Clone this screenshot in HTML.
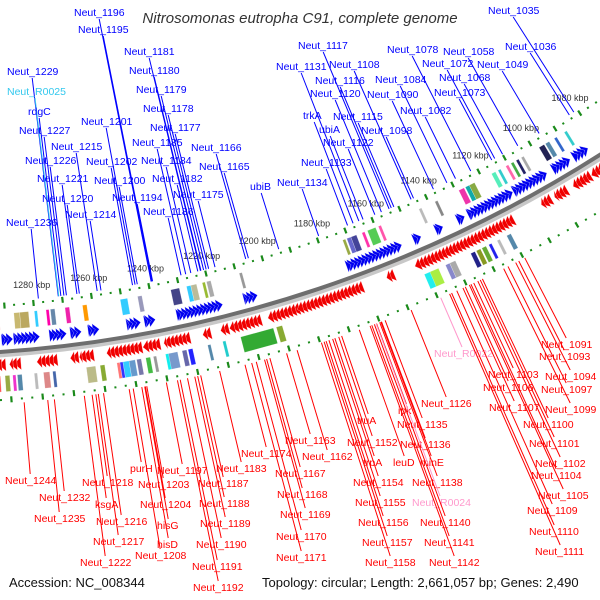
<!DOCTYPE html>
<html><head><meta charset="utf-8">
<style>
html,body{margin:0;padding:0;background:#fff;}
svg{display:block;font-family:"Liberation Sans",sans-serif;}
</style></head>
<body>
<svg id="map" width="600" height="600" viewBox="0 0 600 600">
<text x="300" y="23" text-anchor="middle" font-size="15" font-style="italic" fill="#333">Nitrosomonas eutropha C91, complete genome</text>
<text x="9" y="587" font-size="13" fill="#111">Accession: NC_008344</text>
<text x="262" y="587" font-size="13" fill="#111">Topology: circular; Length: 2,661,057 bp; Genes: 2,490</text>
</svg>
<script>
// ---- data ----
const tickKbp = [1080,1100,1120,1140,1160,1180,1200,1220,1240,1260,1280];
const blueClusters = [[1288,1291],[1279,1287],[1270,1275],[1265,1268],[1259,1262],[1245,1249],[1240,1243],[1217,1232],[1205,1209],[1154,1173],[1147,1149],[1139,1141],[1131,1133],[1113,1129],[1100,1112],[1091,1097],[1084,1089]];
const redClusters = [[1291,1296],[1286,1289],[1274,1280],[1267,1269],[1262,1266],[1246,1257],[1240,1245],[1230,1238],[1223,1225],[1217,1219],[1206,1216],[1193,1203],[1171,1193],[1160,1162],[1117,1152],[1103,1106],[1097,1101],[1088,1094],[1082,1087]];
const innerBoxStart = [1292,1285,1282,1279,1275,1273,1268,1262,1248,1243,1230,1226,1224,1221,1219,1208,1171,1169,1167,1164,1160,1158,1143,1137,1127,1125,1123,1115,1113,1110,1108,1106,1104,1096,1094,1091,1087];
const innerBoxLen = [2,2,3,1,1,1.5,1.5,1.5,2.5,1.5,3,1.5,2,1,1.5,1,1,1.5,2,1,3,1,1,1,2,1.5,2,1.5,1,1,1,1,1,2,1.5,1,1];
const innerBoxColor = ['#e88','#c8b870','#bba860','#3cf','#f0a','#68a','#e2a','#f90','#3cf','#99b','#448','#3cf','#bb9','#9b3','#aaa','#999','#9a4','#66c','#449','#f3a','#5c5','#f5a','#bbb','#888','#e3a','#1aa','#8a4','#5eb','#3cc','#f6a','#4a4','#226','#aaa','#225','#58a','#36c','#3cc'];
const outerBoxStart = [1293,1290,1288,1286,1281,1277,1275,1264,1262,1259,1254,1253,1251,1249,1247,1244,1242,1237,1235,1232,1230,1224,1219,1203,1200,1148,1146,1142,1140,1133,1131,1129,1127,1124,1120];
const outerBoxLen = [2,1.5,1,1.5,1,2,1,1,3,1.5,1,1,2,2,1.5,1.5,1,2,3,1.5,1.5,1,1,11,2,3,3,1.5,2,1.5,1.5,1.5,1,1,1.5];
const outerBoxColor = ['#f55','#9a4','#e3c','#58a','#bbb','#d88','#46a','#f8b','#bb8','#8a3','#f77','#33f','#3cf','#69c','#77a','#4b4','#999','#1ee','#79c','#66a','#22f','#58a','#2cc','#3a3','#8a3','#2ee','#ae4','#88c','#aaa','#228','#892','#6a3','#22e','#bbb','#58a'];
const topNames = ['Neut_1196','Neut_1195','Neut_1181','Neut_1180','Neut_1179','Neut_1178','Neut_1177','Neut_1185','Neut_1184','Neut_1182','Neut_1175','Neut_1186','Neut_1166','Neut_1165','ubiB','Neut_1229','Neut_R0025','rdgC','Neut_1227','Neut_1215','Neut_1226','Neut_1221','Neut_1220','Neut_1214','Neut_1236','Neut_1201','Neut_1202','Neut_1200','Neut_1194','Neut_1035','Neut_1036','Neut_1049','Neut_1058','Neut_1072','Neut_1068','Neut_1073','Neut_1078','Neut_1084','Neut_1090','Neut_1082','Neut_1098','Neut_1117','Neut_1108','Neut_1131','Neut_1116','Neut_1120','Neut_1115','trkA','ubiA','Neut_1122','Neut_1133','Neut_1134'];
const topX = [74,78,124,129,136,143,150,132,141,152,173,143,191,199,250,7,7,28,19,51,25,37,42,65,6,81,86,94,112,488,505,477,443,422,439,434,387,375,367,400,361,298,329,276,315,310,333,303,319,323,301,277];
const topY = [16,33,55,74,93,112,131,146,164,182,198,215,151,170,190,75,95,115,134,150,164,182,202,218,226,125,165,184,201,14,50,68,55,67,81,96,53,83,98,114,134,49,68,70,84,97,120,119,133,146,166,186];
const botNames = ['Neut_1244','Neut_1232','Neut_1235','Neut_1218','ksgA','Neut_1216','Neut_1217','Neut_1222','purH','Neut_1197','Neut_1203','Neut_1204','hisG','hisD','Neut_1208','Neut_1183','Neut_1187','Neut_1188','Neut_1189','Neut_1190','Neut_1191','Neut_1192','Neut_1174','Neut_1163','Neut_1162','Neut_1167','Neut_1168','Neut_1169','Neut_1170','Neut_1171','truA','Neut_1152','trpA','Neut_1154','Neut_1155','Neut_1156','Neut_1157','Neut_1158','ipk','Neut_1135','Neut_1136','leuD','minE','Neut_1138','Neut_R0024','Neut_1140','Neut_1141','Neut_1142','Neut_1126','Neut_R0022','Neut_1103','Neut_1106','Neut_1107','Neut_1091','Neut_1093','Neut_1094','Neut_1097','Neut_1099','Neut_1100','Neut_1101','Neut_1102','Neut_1104','Neut_1105','Neut_1109','Neut_1110','Neut_1111'];
const botX = [5,39,34,82,95,96,93,80,130,157,138,140,157,157,135,216,198,199,200,196,192,193,241,285,302,275,277,280,276,276,357,347,363,353,355,358,362,365,398,397,400,393,420,412,412,420,424,429,421,434,488,483,489,541,539,545,541,545,523,529,535,531,538,527,529,535];
const botY = [484,501,522,486,508,525,545,566,472,474,488,508,529,548,559,472,487,507,527,548,570,591,457,444,460,477,498,518,540,561,424,446,466,486,506,526,546,566,414,428,448,466,466,486,506,526,546,566,407,357,378,391,411,348,360,380,393,413,428,447,467,479,499,514,535,555];

// ---- geometry ----
const CX=-88, CY=-927, R=1282;
const svg=document.getElementById('map');
const NS='http://www.w3.org/2000/svg';
function ang(k){return (57.3+(k-1080)*0.1353)*Math.PI/180;}
function pt(r,k){const a=ang(k);return [CX+r*Math.cos(a),CY+r*Math.sin(a)];}
function mk(tag,attrs){const e=document.createElementNS(NS,tag);for(const a in attrs)e.setAttribute(a,attrs[a]);svg.appendChild(e);return e;}
function arcPath(r,k0,k1){const p0=pt(r,k0),p1=pt(r,k1);return 'M'+p0[0]+' '+p0[1]+' A'+r+' '+r+' 0 0 0 '+p1[0]+' '+p1[1];}
const K0=1070,K1=1300;

// backbone
let e=mk('path',{d:arcPath(R+3,K1,K0),fill:'none',stroke:'#c8c8c8','stroke-width':5});


e=mk('path',{d:arcPath(R,K1,K0),fill:'none',stroke:'#6e6e6e','stroke-width':4});



// scale rings
[R-46,R+48].forEach((rr,ri)=>{
  for(let k=K0;k<=K1;k+=10/3){
    const major=Math.abs(k/10-Math.round(k/10))<0.01;
    const h=major?3:1;
    const a=pt(rr-h,k),b=pt(rr+h,k);
    const t=mk('line',{x1:a[0],y1:a[1],x2:b[0],y2:b[1],stroke:'#1a8a1a','stroke-width':major?2.2:2});
    
    
  }
});
tickKbp.forEach(k=>{
  const p=pt(R-64,k);
  const t=mk('text',{x:p[0],y:p[1]+3,'font-size':9,'text-anchor':'middle',fill:'#333'});
  t.textContent=k+' kbp';
  
  
});

// arrows (triangular heads)
function arrow(k,len,rc,dir,color){
  const hw=6.5;
  const tail=dir>0?k+len:k, head=dir>0?k:k+len;
  const a=pt(rc-hw,tail),b=pt(rc+hw,tail),c=pt(rc,head);
  return mk('polygon',{points:[a,c,b].map(p=>p.join(',')).join(' '),fill:color,stroke:'#fff','stroke-width':0.3});
}
blueClusters.forEach(([s,t])=>{
  for(let k=s;k<t;k+=1.3){const g=arrow(k,Math.min(2.2,t-k+0.8),R-12,1,'#0000f0');
    
    }
});
redClusters.forEach(([s,t])=>{
  for(let k=s;k<t;k+=1.3){const g=arrow(k,Math.min(2.2,t-k+0.8),R+13,-1,'#f00000');
    
    }
});

// boxes
function box(k,len,r0,r1,color){
  const a=pt(r0,k),b=pt(r0,k+len),c=pt(r1,k+len),d=pt(r1,k);
  return mk('polygon',{points:[a,b,c,d].map(p=>p.join(',')).join(' '),fill:color,stroke:'rgba(255,255,255,0.5)','stroke-width':0.5});
}
innerBoxStart.forEach((k,i)=>{const b=box(k,innerBoxLen[i],R-38,R-22,innerBoxColor[i]);
  
  });
outerBoxStart.forEach((k,i)=>{const b=box(k,outerBoxLen[i],R+24,R+40,outerBoxColor[i]);
  
  });

// labels
function colorFor(n,base){if(n==='Neut_R0025')return '#33c8ee';if(n.indexOf('Neut_R')===0)return '#ff99cc';return base;}
function label(n,x,y,top){
  const col=colorFor(n,top?'#0000ff':'#ff0000');
  const w=n.length*5.6;
  const ax=x+w/2, ay=top?y+3:y-10;
  const dx=ax-CX, dy=ay-CY, d=Math.hypot(dx,dy);
  const rr=top?R-50:R+52;
  const ex=CX+dx/d*rr, ey=CY+dy/d*rr;
  const l=mk('line',{x1:ax,y1:ay,x2:ex,y2:ey,stroke:col,'stroke-width':1});
  
  
  const t=mk('text',{x:x,y:y,'font-size':10.5,fill:col});
  t.textContent=n;
  
  
}
topNames.forEach((n,i)=>label(n,topX[i],topY[i],true));
botNames.forEach((n,i)=>label(n,botX[i],botY[i],false));
</script>
</body></html>
